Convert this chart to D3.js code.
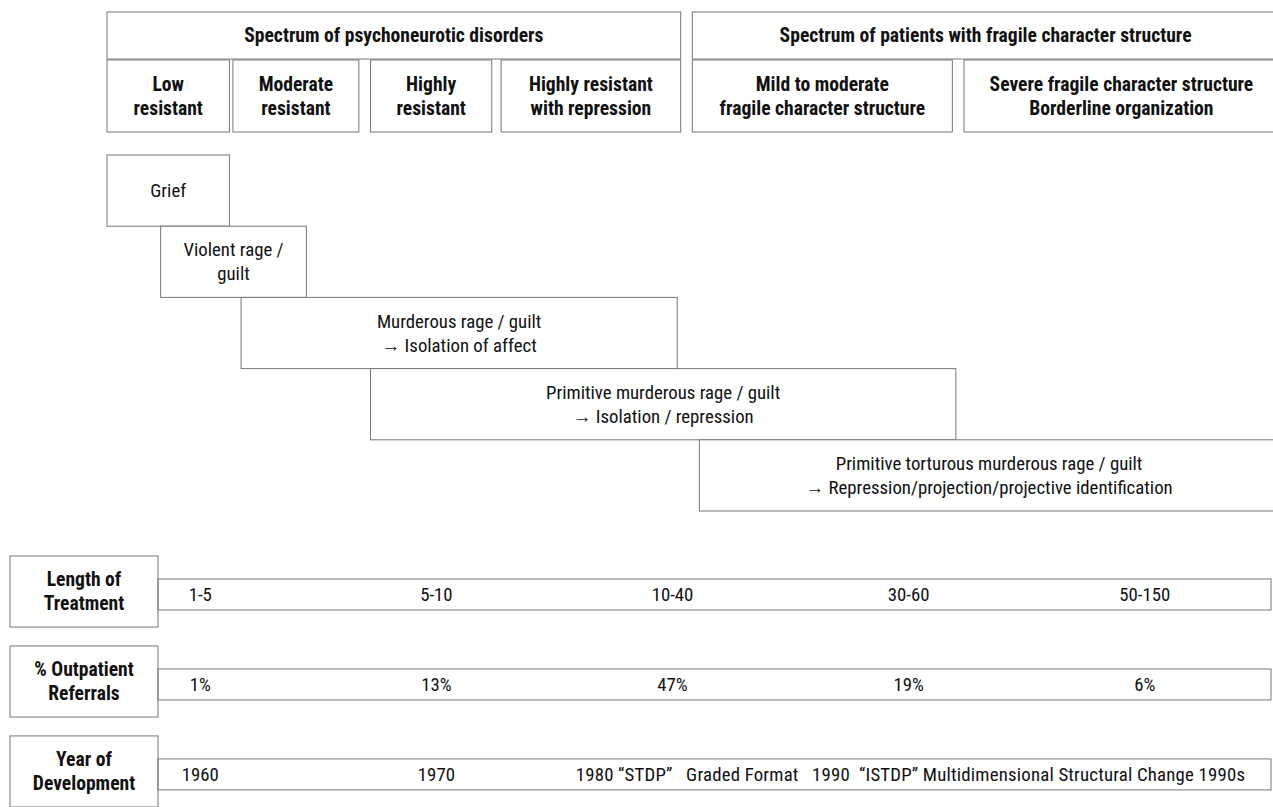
<!DOCTYPE html>
<html>
<head>
<meta charset="utf-8">
<script src="https://cdn.jsdelivr.net/npm/d3@7"></script>
<style>
  body { margin: 0; background: #fff; }
  svg text { font-family: 'Roboto Condensed', 'Liberation Sans Narrow', sans-serif; fill: #111; }
</style>
</head>
<body>
<script>
// spectrum spans are on a 0-100 scale across the page
const spectra = [
  { name: 'Spectrum of psychoneurotic disorders', start: 0, end: 49.2 },
  { name: 'Spectrum of patients with fragile character structure', start: 50.2, end: 100.5 },
]
const resistance = [
  { name: 'Low\nresistant', start: 0, end: 10.5 },
  { name: 'Moderate\nresistant', start: 10.8, end: 21.6 },
  { name: 'Highly\nresistant', start: 22.6, end: 33 },
  { name: 'Highly resistant\nwith repression', start: 33.8, end: 49.2 },
  { name: 'Mild to moderate\nfragile character structure', start: 50.2, end: 72.5 },
  { name: 'Severe fragile character structure\nBorderline organization', start: 73.5, end: 100.5 },
]
const feelings = [
  { name: 'Grief', start: 0, end: 10.5 },
  { name: 'Violent rage /\nguilt', start: 4.6, end: 17.1 },
  { name: 'Murderous rage / guilt\n\u2192 Isolation of affect', start: 11.5, end: 48.9 },
  { name: 'Primitive murderous rage / guilt\n\u2192 Isolation / repression', start: 22.6, end: 72.8 },
  { name: 'Primitive torturous murderous rage / guilt\n\u2192 Repression/projection/projective identification', start: 50.8, end: 100.5 },
]
const rowLabels = ['Length of\nTreatment', '% Outpatient\nReferrals', 'Year of\nDevelopment']
const treatmentLength = ['1-5', '5-10', '10-40', '30-60', '50-150']
const referrals = ['1%', '13%', '47%', '19%', '6%']
const years = ['1960', '1970', '1980 \u201cSTDP\u201d   Graded Format   1990  \u201cISTDP\u201d Multidimensional Structural Change 1990s']

const width = 1273, height = 807

const x = d3.scaleLinear().domain([0, 100]).range([107, 1273])
const col = d3.scalePoint().domain(d3.range(5)).range([x(8), x(89)])
const stageY = d3.scaleBand().domain(d3.range(feelings.length)).range([155, 511])
const rowY = d3.scaleBand().domain(d3.range(rowLabels.length)).range([556, 807]).paddingInner(0.21)

const svg = d3.select('body').append('svg')
  .attr('width', width)
  .attr('height', height)

const stroke = '#777'
const lineH = 24
const fs = 18.8
const fsBold = 19.6

function multiline(sel, cx, cy) {
  sel.each(function(d) {
    const lines = d.name.split('\n')
    const t = d3.select(this)
    lines.forEach((l, i) => {
      t.append('tspan')
        .attr('x', cx(d))
        .attr('y', cy(d) + (i - (lines.length - 1) / 2) * lineH)
        .attr('dy', '0.35em')
        .text(l)
    })
  })
}

function boxes(data, y0, y1, bold) {
  const g = svg.append('g')
  g.selectAll('rect')
    .data(data)
    .join('rect')
    .attr('x', d => x(d.start))
    .attr('y', d => y0(d))
    .attr('width', d => x(d.end) - x(d.start))
    .attr('height', d => y1(d) - y0(d))
    .attr('fill', '#fff')
    .attr('stroke', stroke)
  g.selectAll('text')
    .data(data)
    .join('text')
    .attr('text-anchor', 'middle')
    .attr('font-size', bold ? fsBold : fs)
    .attr('font-weight', bold ? 'bold' : 'normal')
    .call(multiline, d => (x(d.start) + x(d.end)) / 2, d => (y0(d) + y1(d)) / 2)
}

boxes(spectra, () => 12, () => 59, true)
boxes(resistance, () => 60, () => 132, true)
boxes(feelings.map((d, i) => ({ ...d, i })), d => stageY(d.i), d => stageY(d.i) + stageY.bandwidth(), false)

// bottom rows
const rows = [treatmentLength, referrals, years]
const rg = svg.append('g')
rows.forEach((vals, r) => {
  const top = rowY(r)
  const bh = rowY.bandwidth()
  rg.append('rect')
    .attr('x', 10).attr('y', top)
    .attr('width', 148).attr('height', bh)
    .attr('fill', '#fff').attr('stroke', stroke)
  rg.append('text')
    .attr('text-anchor', 'middle')
    .attr('font-size', fsBold)
    .attr('font-weight', 'bold')
    .datum({ name: rowLabels[r] })
    .call(multiline, () => 84, () => top + bh / 2)
  rg.append('rect')
    .attr('x', 158).attr('y', top + 23)
    .attr('width', 1271 - 158).attr('height', 31)
    .attr('fill', 'none').attr('stroke', stroke)
  rg.selectAll(null)
    .data(vals)
    .join('text')
    .attr('font-size', fs)
    .attr('xml:space', 'preserve')
    .style('white-space', 'pre')
    .style('letter-spacing', (d, i) => (i === 2 && r === 2 ? '0.2px' : null))
    .attr('text-anchor', (d, i) => (i === 2 && r === 2 ? 'start' : 'middle'))
    .attr('x', (d, i) => (i === 2 && r === 2 ? x(40.2) : col(i)))
    .attr('y', top + 23 + 15.5)
    .attr('dy', '0.35em')
    .text(d => d)
})
</script>
</body>
</html>
